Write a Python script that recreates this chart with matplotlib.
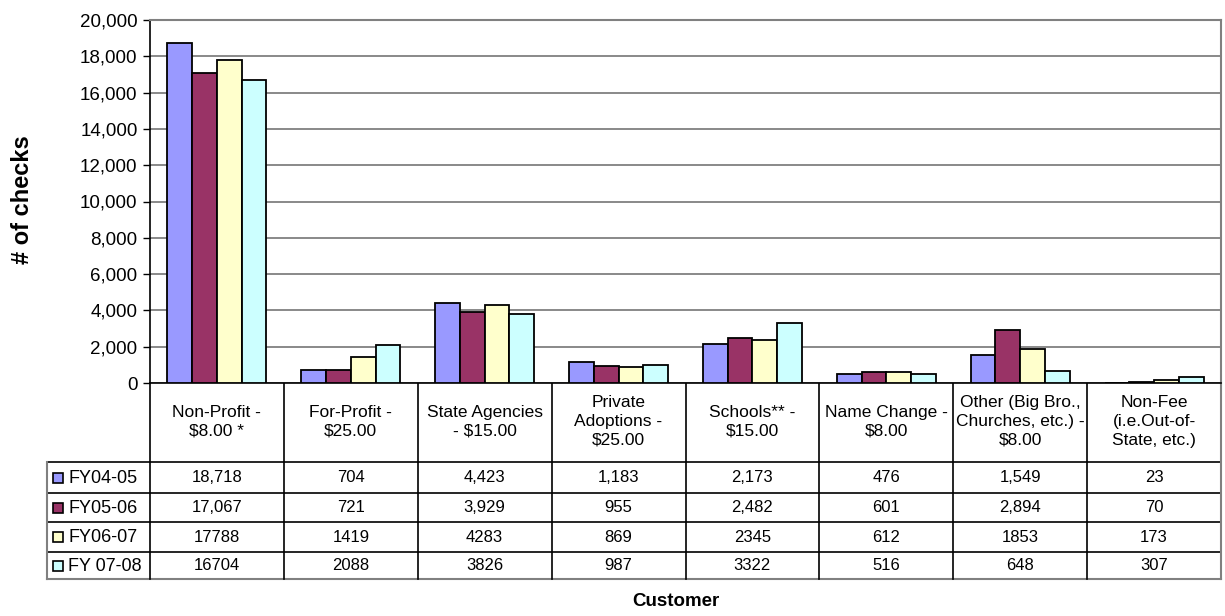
import numpy as np
import matplotlib
matplotlib.use("Agg")
import matplotlib.pyplot as plt
from matplotlib.ticker import FuncFormatter

plt.rcParams['font.family'] = ['Liberation Sans', 'DejaVu Sans']

# data
categories = ["Non-Profit -\n$8.00 *", "For-Profit -\n$25.00", "State Agencies\n- $15.00",
              "Private\nAdoptions -\n$25.00", "Schools** -\n$15.00", "Name Change -\n$8.00",
              "Other (Big Bro.,\nChurches, etc.) -\n$8.00", "Non-Fee\n(i.e.Out-of-\nState, etc.)"]
series = ["FY04-05", "FY05-06", "FY06-07", "FY 07-08"]
fy0405 = [18718, 704, 4423, 1183, 2173, 476, 1549, 23]
fy0506 = [17067, 721, 3929, 955, 2482, 601, 2894, 70]
fy0607 = [17788, 1419, 4283, 869, 2345, 612, 1853, 173]
fy0708 = [16704, 2088, 3826, 987, 3322, 516, 648, 307]
values = [fy0405, fy0506, fy0607, fy0708]
colors = ["#9999FF", "#993366", "#FFFFCC", "#CCFFFF"]
comma_fmt = [True, True, False, False]  # the table shows commas only for first two years

W, H = 1225, 616
fig = plt.figure(figsize=(W / 100, H / 100), dpi=100)

# plot area in pixels
L, R, T, B = 150, 1221, 20, 383
ax = fig.add_axes([L / W, (H - B) / H, (R - L) / W, (B - T) / H])

x = np.arange(len(categories))
bw = 0.185
for i, vals in enumerate(values):
    ax.bar(x + (i - 1.5) * bw, vals, width=bw, color=colors[i], edgecolor="black",
           linewidth=1.3, zorder=3)

ax.set_xlim(-0.5, len(categories) - 0.5)
ax.set_ylim(0, 20000)
ax.set_yticks(np.arange(0, 20001, 2000))
ax.yaxis.set_major_formatter(FuncFormatter(lambda v, p: f"{int(v):,}"))
ax.tick_params(axis="y", labelsize=13.5, length=5, width=1, direction="out", pad=4)
ax.set_xticks([])
ax.grid(axis="y", color="#808080", linewidth=1.3, zorder=0)
for s in ["top", "right"]:
    ax.spines[s].set_color("#808080")
    ax.spines[s].set_linewidth(1.5)
ax.spines["left"].set_linewidth(1.2)
ax.spines["bottom"].set_linewidth(1.2)

# data table drawn under the axes in pixel coordinates
tab = fig.add_axes([0, 0, 1, 1], zorder=-1)
tab.set_xlim(0, W)
tab.set_ylim(H, 0)
tab.axis("off")

colw = (R - L) / len(categories)
leg_l = 47
hdr_b = 462
row_b = [493, 522, 552, 579]
row_t = [hdr_b] + row_b[:-1]

# horizontal lines
tab.plot([leg_l, R], [hdr_b, hdr_b], color="black", lw=1.2)
for yb in row_b[:-1]:
    tab.plot([leg_l, R], [yb, yb], color="black", lw=1.2)
tab.plot([leg_l, R], [row_b[-1], row_b[-1]], color="#808080", lw=1.5)
# vertical lines
for j in range(1, len(categories)):
    tab.plot([L + j * colw] * 2, [B, row_b[-1]], color="black", lw=1.2)
tab.plot([L, L], [B, row_b[-1]], color="black", lw=1.2)
tab.plot([leg_l, leg_l], [hdr_b, row_b[-1]], color="#808080", lw=1.5)
tab.plot([R, R], [B, row_b[-1]], color="#808080", lw=1.5)

for j, cat in enumerate(categories):
    tab.text(L + (j + 0.5) * colw, (B + hdr_b) / 2 - 1, cat, ha="center", va="center",
             fontsize=12.5, linespacing=1.3)

for i, name in enumerate(series):
    yc = (row_t[i] + row_b[i]) / 2
    tab.add_patch(plt.Rectangle((leg_l + 6, yc - 5), 10, 10, facecolor=colors[i],
                                edgecolor="black", lw=1.2))
    tab.text(leg_l + 21, yc + 1, name, ha="left", va="center", fontsize=13)
    for j, v in enumerate(values[i]):
        txt = f"{v:,}" if comma_fmt[i] else str(v)
        tab.text(L + (j + 0.5) * colw, yc, txt, ha="center", va="center", fontsize=12)

fig.text(23 / W, 1 - 200 / H, "# of checks", rotation=90, ha="center", va="center",
         fontsize=17, fontweight="bold")
fig.text(676 / W, 1 - 602 / H, "Customer", ha="center", va="center",
         fontsize=13.5, fontweight="bold")

fig.savefig("out.png", dpi=100)
